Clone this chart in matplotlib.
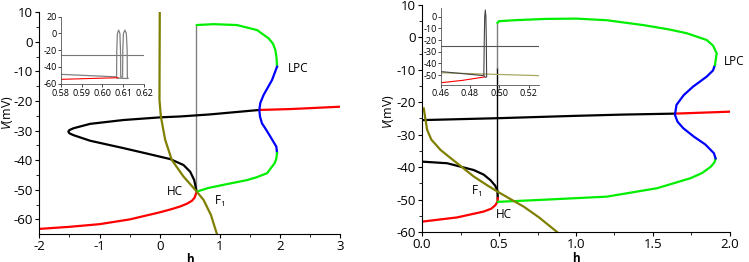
import matplotlib
matplotlib.use("Agg")
import matplotlib.pyplot as plt

plt.rcParams['font.family'] = ['Open Sans', 'DejaVu Sans']
plt.rcParams['mathtext.fontset'] = 'custom'
plt.rcParams['mathtext.it'] = 'Open Sans:italic'
plt.rcParams['mathtext.rm'] = 'Open Sans'
plt.rcParams['axes.unicode_minus'] = False

GREEN = '#00ee00'
BLUE = '#0000ff'
RED = '#ff0000'
OLIVE = '#7f7f00'
GRAY = '#808080'

# ---------------- left panel data ----------------
L_black_h = [1.653, 0.838, 0.34, 0.007, -0.603, -1.157, -1.435, -1.50, -1.518, -1.50, -1.435,
             -1.157, -0.603, -0.159, 0.173, 0.394, 0.506, 0.572, 0.606]
L_black_v = [-23.0, -24.5, -25.2, -25.5, -26.4, -27.7, -29.2, -29.8, -30.3, -30.9, -31.5,
             -33.4, -35.9, -38.0, -39.6, -41.6, -43.9, -46.7, -50.0]
L_red_up_h = [1.653, 2.17, 3.0]
L_red_up_v = [-23.0, -22.7, -21.9]
L_red_lo_h = [-2.0, -1.5, -1.0, -0.5, 0.0, 0.2, 0.34, 0.45, 0.534, 0.58, 0.606]
L_red_lo_v = [-63.2, -62.5, -61.6, -60.0, -57.6, -56.5, -55.6, -54.7, -53.7, -52.6, -51.0]
L_green_top_h = [0.617, 0.893, 1.282, 1.615, 1.808, 1.88, 1.919, 1.94, 1.947]
L_green_top_v = [5.7, 6.0, 5.7, 4.0, 1.2, -0.6, -2.7, -5.5, -8.4]
L_blue_h = [1.947, 1.864, 1.725, 1.67, 1.653, 1.665, 1.697, 1.77, 1.836, 1.936, 1.947]
L_blue_v = [-8.4, -12.9, -17.9, -20.6, -23.0, -25.3, -27.5, -29.8, -32.0, -35.4, -37.6]
L_green_bot_h = [1.947, 1.935, 1.907, 1.781, 1.6, 1.449, 1.06, 0.8, 0.617]
L_green_bot_v = [-37.6, -39.5, -41.0, -44.4, -45.8, -46.7, -48.3, -49.4, -50.6]
L_olive_h = [0.0, -0.005, 0.019, 0.09, 0.2, 0.394, 0.589, 0.727, 0.85, 0.95]
L_olive_v = [10.0, -19.6, -25.3, -33.1, -39.9, -45.5, -50.0, -53.4, -58.5, -65.0]
L_hc_h = [0.61, 0.61]
L_hc_v = [-50.3, 5.7]

# left inset
Li_line_h = [0.58, 0.62]
Li_line_v = [-26, -26]
Li_gray_h = [0.58, 0.6068, 0.6069, 0.6072, 0.6078, 0.6084, 0.6087, 0.6088, 0.6097,
             0.6098, 0.6101, 0.6108, 0.6115, 0.6119, 0.6120, 0.6124, 0.6070]
Li_gray_v = [-49, -52, -20, 0, 4, 0, -20, -52, -52, -20, 0, 4, 0, -20, -53, -54, -53.5]
Li_red_h = [0.58, 0.6075]
Li_red_v = [-55, -53]

# ---------------- right panel data ----------------
R_black_up_h = [0.0, 0.5, 0.986, 1.3, 1.643]
R_black_up_v = [-25.5, -24.9, -24.2, -23.8, -23.5]
R_black_lo_h = [0.0, 0.163, 0.336, 0.40, 0.444, 0.475, 0.49, 0.492]
R_black_lo_v = [-38.3, -38.8, -40.9, -42.3, -44.0, -45.7, -47.3, -49.6]
R_red_up_h = [1.643, 2.0]
R_red_up_v = [-23.5, -22.9]
R_red_lo_h = [0.0, 0.228, 0.4, 0.45, 0.477, 0.49, 0.492]
R_red_lo_v = [-56.8, -55.5, -53.7, -52.8, -51.7, -50.6, -49.6]
R_green_bot_h = [0.492, 0.77, 1.2, 1.527, 1.745, 1.82, 1.875, 1.9, 1.907]
R_green_bot_v = [-50.7, -50.1, -49.1, -46.5, -43.4, -41.8, -39.9, -38.5, -37.3]
R_blue_h = [1.907, 1.896, 1.84, 1.766, 1.697, 1.66, 1.643, 1.653, 1.70, 1.76, 1.849, 1.89, 1.903]
R_blue_v = [-37.3, -35.7, -33.0, -30.6, -28.0, -26.0, -23.9, -20.8, -17.8, -15.2, -12.1, -10.2, -8.5]
R_green_top_h = [1.903, 1.914, 1.89, 1.849, 1.8, 1.719, 1.6, 1.437, 1.2, 1.0, 0.8, 0.6, 0.50, 0.49]
R_green_top_v = [-8.5, -4.9, -2.5, -0.8, 0.0, 1.3, 2.5, 3.8, 5.3, 5.8, 5.7, 5.3, 5.0, 4.5]
R_olive_h = [0.011, 0.033, 0.06, 0.12, 0.18, 0.228, 0.336, 0.42, 0.492, 0.58, 0.661, 0.76, 0.877]
R_olive_v = [-21.9, -28.5, -31.5, -34.7, -37.0, -38.8, -42.9, -45.5, -47.6, -50.0, -52.2, -55.5, -60.0]
R_vline_h = [0.49, 0.49]
R_vline_black_v = [-50.7, -9.5]
R_vline_gray_v = [-9.5, 4.5]

# right inset
Ri_line_h = [0.46, 0.527]
Ri_line_v = [-25.5, -25.5]
Ri_gray_h = [0.46, 0.4894, 0.4897, 0.4900, 0.4904, 0.4908, 0.4911, 0.4913, 0.4906, 0.4897]
Ri_gray_v = [-47.0, -50.5, -20, 0, 5.7, 0, -20, -51.5, -52.0, -51.0]
Ri_olive_h = [0.46, 0.527]
Ri_olive_v = [-48.0, -50.5]
Ri_red_h = [0.46, 0.475, 0.4895]
Ri_red_v = [-56.6, -54.5, -51.7]

fig = plt.figure(figsize=(7.49, 2.62), dpi=100)


def style(ax, fs):
    for s in ['top', 'right']:
        ax.spines[s].set_visible(False)
    ax.tick_params(direction='out', labelsize=fs, width=0.8, length=3, pad=1.5)
    ax.tick_params(which='minor', direction='out', width=0.6, length=2)


# left main
ax1 = fig.add_axes([0.0525, 0.106, 0.402, 0.847])
lw = 1.6
ax1.plot(L_hc_h, L_hc_v, color=GRAY, lw=1.0)
ax1.plot(L_black_h, L_black_v, color='black', lw=lw)
ax1.plot(L_red_up_h, L_red_up_v, color=RED, lw=lw)
ax1.plot(L_red_lo_h, L_red_lo_v, color=RED, lw=lw)
ax1.plot(L_green_top_h, L_green_top_v, color=GREEN, lw=lw)
ax1.plot(L_blue_h, L_blue_v, color=BLUE, lw=lw)
ax1.plot(L_green_bot_h, L_green_bot_v, color=GREEN, lw=lw)
ax1.plot(L_olive_h, L_olive_v, color=OLIVE, lw=lw)
ax1.set_xlim(-2, 3)
ax1.set_ylim(-65, 10)
ax1.set_xticks([-2, -1, 0, 1, 2, 3])
ax1.set_xticks([-1.5, -0.5, 0.5, 1.5, 2.5], minor=True)
ax1.set_yticks([-60, -50, -40, -30, -20, -10, 0, 10])
ax1.set_yticks([-55, -45, -35, -25, -15, -5, 5], minor=True)
style(ax1, 9.5)
ax1.set_xlabel('h', fontsize=8.5, fontweight='bold')
ax1.xaxis.set_label_coords(0.5, -0.085)
ax1.set_ylabel('$\\mathit{V}$(mV)', fontsize=9)
ax1.yaxis.set_label_coords(-0.08, 0.55)
ax1.text(0.12, -50.6, 'HC', fontsize=8.5, va='center')
ax1.text(0.9, -54, 'F$_1$', fontsize=8.5, va='center')
ax1.text(2.12, -9, 'LPC', fontsize=8.5, va='center')

# left inset
ia1 = fig.add_axes([0.0814, 0.678, 0.1108, 0.258], facecolor='none')
ia1.plot(Li_line_h, Li_line_v, color='#777777', lw=0.8)
ia1.plot(Li_gray_h, Li_gray_v, color=GRAY, lw=0.9)
ia1.plot(Li_red_h, Li_red_v, color=RED, lw=0.8)
ia1.set_xlim(0.58, 0.62)
ia1.set_ylim(-61, 20)
ia1.set_xticks([0.58, 0.59, 0.60, 0.61, 0.62])
ia1.set_yticks([-60, -40, -20, 0, 20])
style(ia1, 6.5)
ia1.tick_params(length=2, width=0.5, pad=1)
for s in ['left', 'bottom']:
    ia1.spines[s].set_linewidth(0.6)
    ia1.spines[s].set_color('#555555')

# right main
ax2 = fig.add_axes([0.5635, 0.1145, 0.411, 0.8665])
ax2.plot(R_vline_h, R_vline_black_v, color='black', lw=1.0)
ax2.plot(R_vline_h, R_vline_gray_v, color=GRAY, lw=1.0)
ax2.plot(R_black_up_h, R_black_up_v, color='black', lw=lw)
ax2.plot(R_black_lo_h, R_black_lo_v, color='black', lw=lw)
ax2.plot(R_red_up_h, R_red_up_v, color=RED, lw=lw)
ax2.plot(R_red_lo_h, R_red_lo_v, color=RED, lw=lw)
ax2.plot(R_green_bot_h, R_green_bot_v, color=GREEN, lw=lw)
ax2.plot(R_blue_h, R_blue_v, color=BLUE, lw=lw)
ax2.plot(R_green_top_h, R_green_top_v, color=GREEN, lw=lw)
ax2.plot(R_olive_h, R_olive_v, color=OLIVE, lw=lw)
ax2.set_xlim(0, 2.0)
ax2.set_ylim(-60, 10)
ax2.set_xticks([0.0, 0.5, 1.0, 1.5, 2.0])
ax2.set_xticks([0.25, 0.75, 1.25, 1.75], minor=True)
ax2.set_yticks([-60, -50, -40, -30, -20, -10, 0, 10])
ax2.set_yticks([-55, -45, -35, -25, -15, -5, 5], minor=True)
style(ax2, 9.5)
ax2.set_xlabel('h', fontsize=8.5, fontweight='bold')
ax2.xaxis.set_label_coords(0.5, -0.09)
ax2.set_ylabel('$\\mathit{V}$(mV)', fontsize=9)
ax2.yaxis.set_label_coords(-0.085, 0.53)
ax2.text(0.315, -47.6, 'F$_1$', fontsize=8.5, va='center')
ax2.text(0.48, -54.7, 'HC', fontsize=8.5, va='center')
ax2.text(1.96, -7.5, 'LPC', fontsize=8.5, va='center')

# right inset
ia2 = fig.add_axes([0.5884, 0.6756, 0.1312, 0.293], facecolor='none')
ia2.plot(Ri_line_h, Ri_line_v, color='#555555', lw=0.8)
ia2.plot(Ri_olive_h, Ri_olive_v, color='#a8a860', lw=0.9)
ia2.plot(Ri_gray_h, Ri_gray_v, color='#444444', lw=0.8)
ia2.plot(Ri_red_h, Ri_red_v, color=RED, lw=0.8)
ia2.set_xlim(0.46, 0.527)
ia2.set_ylim(-58.5, 7.2)
ia2.set_xticks([0.46, 0.48, 0.50, 0.52])
ia2.set_yticks([-50, -40, -30, -20, -10, 0])
style(ia2, 6.5)
ia2.tick_params(length=2, width=0.5, pad=1)
for s in ['left', 'bottom']:
    ia2.spines[s].set_linewidth(0.6)
    ia2.spines[s].set_color('#555555')

fig.savefig('out.png', dpi=100)
